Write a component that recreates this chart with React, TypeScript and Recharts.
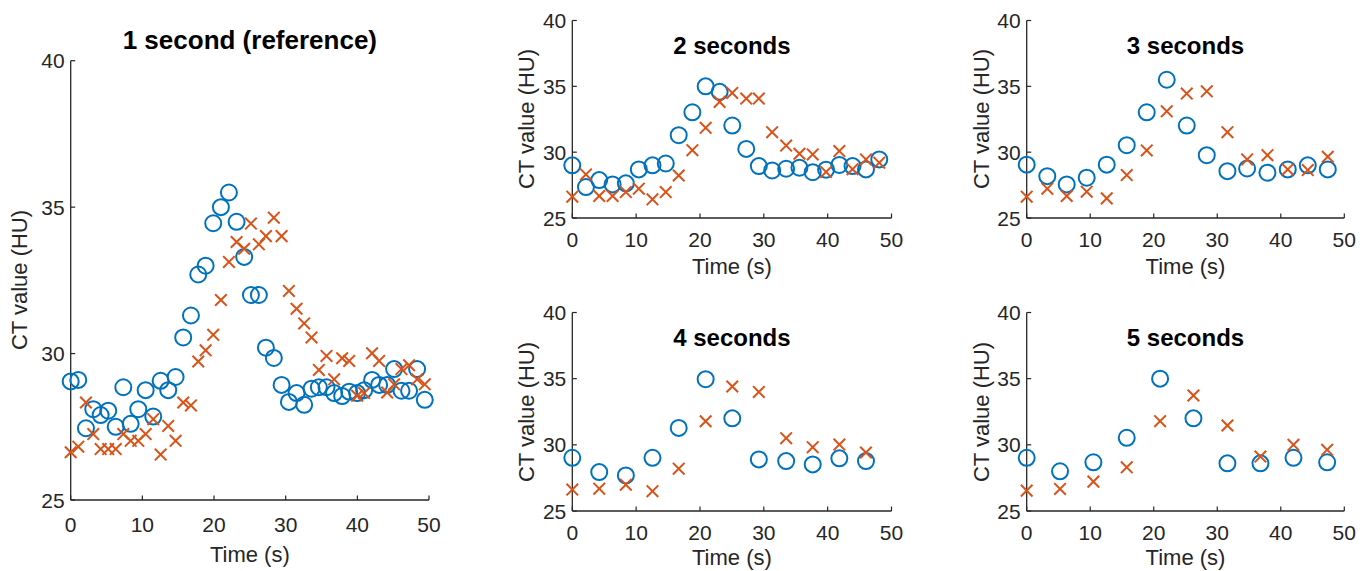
import { ScatterChart, Scatter, XAxis, YAxis } from 'recharts';

// 1 second sampling (reference)
const t1 = [0, 1.06, 2.13, 3.15, 4.18, 5.24, 6.28, 7.34, 8.37, 9.43, 10.46, 11.52, 12.55, 13.61, 14.64, 15.7, 16.78, 17.8, 18.83, 19.89, 20.96, 22.08, 23.15, 24.21, 25.15, 26.26, 27.24, 28.35, 29.43, 30.45, 31.52, 32.58, 33.61, 34.63, 35.7, 36.76, 37.88, 38.86, 39.97, 40.95, 42.06, 43.04, 44.16, 45.13, 46.16, 47.22, 48.34, 49.41];
const blue1 = [29.05, 29.1, 27.45, 28.1, 27.9, 28.05, 27.5, 28.85, 27.6, 28.1, 28.75, 27.85, 29.07, 28.75, 29.2, 30.55, 31.3, 32.7, 33.0, 34.45, 35.0, 35.5, 34.5, 33.3, 32.0, 32.0, 30.2, 29.85, 28.93, 28.35, 28.65, 28.25, 28.8, 28.85, 28.85, 28.65, 28.55, 28.7, 28.65, 28.75, 29.1, 28.93, 28.93, 29.47, 28.73, 28.73, 29.47, 28.42];
const orange1 = [26.63, 26.82, 28.33, 27.25, 26.74, 26.74, 26.74, 27.25, 27.02, 27.02, 27.25, 27.76, 26.55, 27.53, 27.02, 28.33, 28.23, 29.73, 30.11, 30.64, 31.83, 33.13, 33.81, 33.58, 34.44, 33.73, 34.01, 34.64, 34.01, 32.14, 31.53, 31.03, 30.55, 29.44, 29.92, 29.12, 29.84, 29.75, 28.56, 28.65, 30.01, 29.75, 28.67, 28.95, 29.47, 29.6, 29.12, 28.95];

// 2 seconds
const t2 = [0, 2.14, 4.22, 6.31, 8.39, 10.42, 12.56, 14.64, 16.67, 18.81, 20.89, 23.08, 25.06, 27.25, 29.22, 31.31, 33.5, 35.58, 37.66, 39.75, 41.83, 43.9, 46.0, 48.08];
const blue2 = [29.0, 27.35, 27.88, 27.55, 27.63, 28.69, 29.0, 29.14, 31.29, 33.03, 35.0, 34.58, 32.02, 30.25, 28.94, 28.61, 28.74, 28.82, 28.48, 28.67, 29.03, 28.94, 28.69, 29.45];
const orange2 = [26.62, 28.31, 26.67, 26.67, 26.97, 27.23, 26.42, 26.97, 28.23, 30.15, 31.85, 33.82, 34.5, 34.07, 34.07, 31.52, 30.5, 29.88, 29.83, 28.5, 30.08, 28.71, 29.45, 29.2];

// 3 seconds
const t3 = [0, 3.24, 6.3, 9.45, 12.6, 15.75, 18.9, 22.05, 25.2, 28.35, 31.6, 34.7, 37.9, 41.1, 44.25, 47.4];
const blue3 = [29.05, 28.18, 27.55, 28.06, 29.05, 30.53, 33.03, 35.5, 32.02, 29.77, 28.56, 28.76, 28.44, 28.69, 29.0, 28.69];
const orange3 = [26.62, 27.23, 26.67, 27.0, 26.49, 28.26, 30.13, 33.1, 34.45, 34.62, 31.52, 29.45, 29.77, 28.69, 28.64, 29.65];

// 4 seconds
const t4 = [0, 4.22, 8.39, 12.56, 16.67, 20.89, 25.06, 29.22, 33.5, 37.66, 41.83, 46.0];
const blue4 = [29.02, 27.94, 27.69, 29.02, 31.28, 34.96, 32.0, 28.9, 28.77, 28.52, 28.98, 28.77];
const orange4 = [26.62, 26.69, 26.99, 26.5, 28.2, 31.78, 34.41, 34.0, 30.5, 29.82, 30.02, 29.42];

// 5 seconds
const t5 = [0, 5.25, 10.5, 15.75, 21.0, 26.25, 31.6, 36.8, 42.0, 47.3];
const blue5 = [29.02, 28.0, 28.68, 30.53, 35.0, 32.0, 28.6, 28.6, 29.02, 28.68];
const orange5 = [26.54, 26.67, 27.22, 28.3, 31.79, 33.73, 31.46, 29.11, 30.0, 29.62];

const xTicks = [0, 10, 20, 30, 40, 50];
const yTicks = [25, 30, 35, 40];

const W = 1372;
const H = 571;
const BLUE = '#0072BD';
const ORANGE = '#D95319';
const AX = '#262626';
const FONT = '"Liberation Sans", Arial, sans-serif';

const Ring = (p: any) => (
  <circle cx={p.cx} cy={p.cy} r={8} fill="none" stroke={BLUE} strokeWidth={2} />
);

const Cross = (p: any) => {
  const s = 5.8;
  return (
    <path
      d={`M${p.cx - s},${p.cy - s}L${p.cx + s},${p.cy + s}M${p.cx - s},${p.cy + s}L${p.cx + s},${p.cy - s}`}
      stroke={ORANGE}
      strokeWidth={2}
      fill="none"
    />
  );
};

interface PanelProps {
  box: [number, number, number, number]; // left, top, right, bottom of plot area
  times: number[];
  blue: number[];
  orange: number[];
  title: string;
  titleY: number;
  titleSize: number;
  tickGap: number;
  xLabelGap: number;
  yLabelX: number;
}

function Panel({ box, times, blue, orange, title, titleY, titleSize, tickGap, xLabelGap, yLabelX }: PanelProps) {
  const [l, t, r, b] = box;
  const circles = times.map((x, i) => ({ x, y: blue[i] }));
  const crosses = times.map((x, i) => ({ x, y: orange[i] }));

  // MATLAB style: tick marks point into the axes
  const xTick = (props: any) => (
    <g>
      <line x1={props.x} x2={props.x} y1={b} y2={b - 4.5} stroke={AX} strokeWidth={1.2} />
      <text x={props.x} y={b + tickGap} textAnchor="middle" dominantBaseline="central" fontSize={21} fill={AX} fontFamily={FONT}>
        {props.payload.value}
      </text>
    </g>
  );
  const yTick = (props: any) => (
    <g>
      <line x1={l} x2={l + 4.5} y1={props.y} y2={props.y} stroke={AX} strokeWidth={1.2} />
      <text x={l - 6} y={props.y} textAnchor="end" dominantBaseline="central" fontSize={21} fill={AX} fontFamily={FONT}>
        {props.payload.value}
      </text>
    </g>
  );

  const cx = (l + r) / 2;
  return (
    <>
      <div style={{ position: 'absolute', left: 0, top: 0 }}>
        <ScatterChart width={W} height={H} margin={{ left: l - 1, top: t, right: W - r, bottom: H - b - 1 }}>
          <XAxis
            type="number"
            dataKey="x"
            domain={[0, 50]}
            ticks={xTicks}
            interval={0}
            height={1}
            tickLine={false}
            tick={xTick}
            axisLine={{ stroke: AX, strokeWidth: 1.3 }}
          />
          <YAxis
            type="number"
            dataKey="y"
            domain={[25, 40]}
            ticks={yTicks}
            interval={0}
            width={1}
            tickLine={false}
            tick={yTick}
            axisLine={{ stroke: AX, strokeWidth: 1.3 }}
          />
          <Scatter data={circles} shape={Ring} isAnimationActive={false} />
          <Scatter data={crosses} shape={Cross} isAnimationActive={false} />
        </ScatterChart>
      </div>
      <div style={{ position: 'absolute', left: cx, top: titleY, transform: 'translate(-50%, -50%)', fontWeight: 'bold', fontSize: titleSize, color: '#000', whiteSpace: 'nowrap', lineHeight: 1 }}>
        {title}
      </div>
      <div style={{ position: 'absolute', left: cx, top: b + xLabelGap, transform: 'translate(-50%, -50%)', fontSize: 22, color: AX, whiteSpace: 'nowrap', lineHeight: 1 }}>
        Time (s)
      </div>
      <div style={{ position: 'absolute', left: yLabelX, top: (t + b) / 2, transform: 'translate(-50%, -50%) rotate(-90deg)', fontSize: 22, color: AX, whiteSpace: 'nowrap', lineHeight: 1 }}>
        CT value (HU)
      </div>
    </>
  );
}

export default function App() {
  return (
    <div style={{ position: 'absolute', left: 0, top: 0, width: W, height: H, background: '#fff', fontFamily: FONT, overflow: 'hidden' }}>
      <Panel box={[70.7, 60.7, 429, 500]} times={t1} blue={blue1} orange={orange1} title="1 second (reference)" titleY={40} titleSize={26} tickGap={24} xLabelGap={55} yLabelX={20} />
      <Panel box={[572.3, 20.5, 891.5, 218]} times={t2} blue={blue2} orange={orange2} title="2 seconds" titleY={46} titleSize={24} tickGap={21} xLabelGap={49} yLabelX={527} />
      <Panel box={[1026.7, 20.5, 1344.3, 218]} times={t3} blue={blue3} orange={orange3} title="3 seconds" titleY={46} titleSize={24} tickGap={21} xLabelGap={49} yLabelX={982} />
      <Panel box={[572.3, 312.5, 891.5, 511]} times={t4} blue={blue4} orange={orange4} title="4 seconds" titleY={338} titleSize={24} tickGap={21} xLabelGap={47} yLabelX={527} />
      <Panel box={[1026.7, 312.5, 1344.3, 511]} times={t5} blue={blue5} orange={orange5} title="5 seconds" titleY={338} titleSize={24} tickGap={21} xLabelGap={47} yLabelX={982} />
    </div>
  );
}
